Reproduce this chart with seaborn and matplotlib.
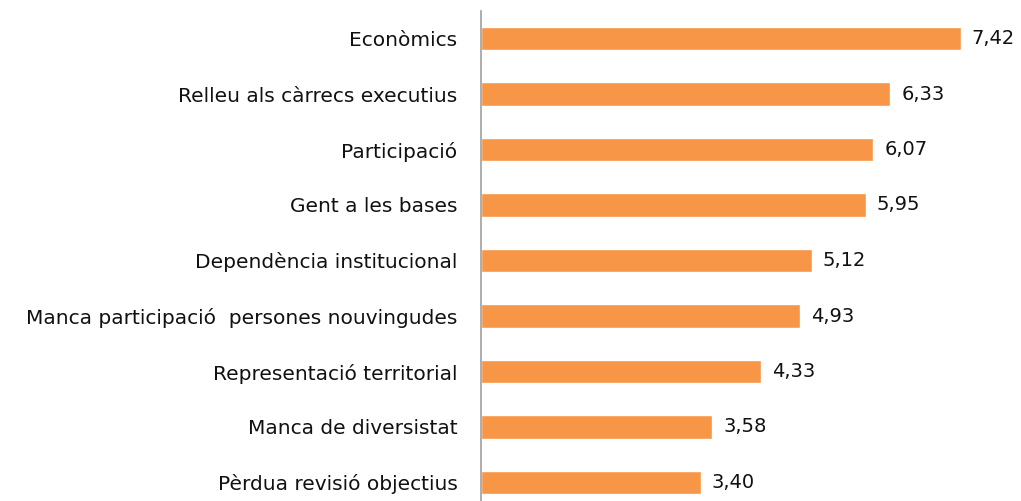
import matplotlib
matplotlib.use("Agg")
import matplotlib.pyplot as plt
import seaborn as sns
import pandas as pd

categories = ["Econòmics", "Relleu als càrrecs executius", "Participació", "Gent a les bases",
              "Dependència institucional", "Manca participació  persones nouvingudes",
              "Representació territorial", "Manca de diversistat", "Pèrdua revisió objectius"]
values = [7.42, 6.33, 6.07, 5.95, 5.12, 4.93, 4.33, 3.58, 3.40]
value_labels = ["7,42", "6,33", "6,07", "5,95", "5,12", "4,93", "4,33", "3,58", "3,40"]

sns.set_theme(style="white")
plt.rcParams['font.family'] = ['DejaVu Sans']

df = pd.DataFrame({"cat": categories, "val": values})
fig = plt.figure(figsize=(10.21, 5.01), dpi=100)
ax = fig.add_axes([481/1021, (501-510.25)/501, 517/1021, 499.5/501])
sns.barplot(data=df, y="cat", x="val", orient="h", color="#F79646", saturation=1,
            width=0.42, ax=ax)
ax.set_xlim(0, 8)
ax.set_ylim(8.5, -0.5)
ax.set_xlabel("")
ax.set_ylabel("")
ax.set_xticks([])
for s in ["top", "right", "bottom"]:
    ax.spines[s].set_visible(False)
ax.spines["left"].set_color("#a0a0a0")
ax.spines["left"].set_linewidth(1.2)
ax.tick_params(axis="y", length=0, pad=17, labelsize=14.5, labelcolor="#111111")
for i, (v, lab) in enumerate(zip(values, value_labels)):
    ax.annotate(lab, (v, i), xytext=(8, 0), textcoords="offset points",
                va="center", ha="left", fontsize=14, color="#111111")
fig.savefig("out.png", dpi=100)
